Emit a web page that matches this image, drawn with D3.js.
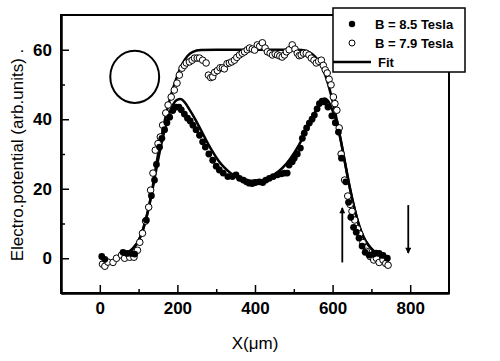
<!DOCTYPE html>
<html>
<head>
<meta charset="utf-8">
<script src="https://cdn.jsdelivr.net/npm/d3@7"></script>
<style>
  body { margin: 0; background: #fff; }
  text { font-family: "Liberation Sans", Arial, sans-serif; }
</style>
</head>
<body>
<div id="chart"></div>
<script>
// Measured points, B = 8.5 Tesla (filled circles)
const x85 = [5, 13, 60, 70, 81, 90, 120, 133, 141, 146, 154, 160, 167, 173, 180, 188, 197, 204, 210, 218,
  226, 233, 240, 248, 257, 265, 272, 281, 291, 300, 308, 318, 330, 342, 351, 360, 370, 378, 385, 393,
  401, 411, 420, 428, 437, 447, 458, 468, 476, 483, 488, 496, 501, 509, 517, 522, 527, 533, 540, 547,
  553, 560, 566, 573, 580, 588, 598, 607, 615, 623, 634, 641, 647, 654, 661, 668, 676, 684, 694, 705,
  712, 720, 730, 741];
const y85 = [0.5, -0.3, 1.7, 1.4, 1.4, 1.2, 11, 18, 22.5, 27, 32, 34.5, 37, 39, 40.6, 42.5, 43.5, 43.5, 42.7, 41.5,
  40.3, 39.5, 38.3, 37, 35.4, 33.5, 32, 30, 28.2, 26.5, 25.4, 24.5, 23.5, 23.5, 24, 23, 22.5, 22, 21.6, 21.5,
  21.8, 22, 21.8, 22.5, 23, 23.5, 24, 24.3, 24.5, 24.5, 26.8, 27.8, 28.8, 30, 31.7, 34.5, 36, 37.5, 38.9, 40,
  41.2, 43, 44.5, 45.2, 45, 43.5, 41, 39, 36.3, 28.8, 22, 16.1, 11.8, 8.9, 7.5, 5.8, 3.5, 1.7, 0.9, 1.2,
  1.5, 1.4, 0.8, 0];

// Measured points, B = 7.9 Tesla (open circles)
const x79 = [7, 13, 21, 34, 43, 56, 64, 77, 88, 97, 103, 110, 118, 126, 131, 137, 143, 150, 156, 162,
  170, 176, 184, 192, 199, 205, 212, 218, 223, 231, 238, 244, 251, 257, 265, 274, 280, 286, 291, 296,
  303, 310, 316, 321, 328, 334, 340, 347, 353, 360, 367, 373, 380, 386, 393, 399, 406, 412, 419, 426,
  432, 439, 445, 452, 458, 464, 470, 476, 481, 488, 496, 503, 509, 514, 519, 525, 532, 539, 545, 552,
  558, 564, 571, 576, 581, 586, 591, 596, 602, 606, 611, 617, 622, 631, 639, 645, 650, 657, 664, 670,
  678, 687, 697, 706, 713, 720, 730, 737, 743];
const y79 = [-1.7, -2.3, -1.1, -1.2, 0, 0.9, 0, 0.3, 0.3, 2.3, 4.6, 7.2, 10.7, 14.7, 19.6, 24.5, 31.1, 33, 34.9, 38.3,
  41.8, 44.1, 46.4, 48.4, 50.4, 52.7, 54.7, 55.5, 56.2, 56.5, 57, 57.6, 57.6, 57.6, 57, 56.2, 52.7, 52, 52.2, 53.5,
  54, 54.8, 54.8, 54.5, 56, 56.2, 56.5, 57, 57.8, 58.5, 59, 59.4, 60, 60.5, 60.2, 59.9, 61.4, 61, 62, 60.5,
  59.4, 59, 58.5, 58.8, 58.5, 58.2, 57.9, 58.5, 59.4, 60, 61.4, 60.2, 59, 58.3, 58.5, 59, 59, 58.5, 57.6, 57,
  56.2, 56.7, 57, 55.5, 54.2, 53.3, 51.5, 49.9, 46.4, 44.5, 42.6, 37.5, 30, 22.5, 17.9, 15.5, 13.5, 11, 8.5, 7,
  4.5, 2, 0.5, -0.5, 0, -1.2, -0.5, -1.5, -2];

// Fit curves
const fitTopX = [70, 85, 100, 112, 125, 137, 148, 160, 172, 185, 198, 212, 226, 240, 260, 300, 400, 500, 520, 535,
  548, 560, 572, 584, 596, 608, 620, 632, 644, 656, 668, 680, 692, 705, 720];
const fitTopY = [1.5, 2.8, 5, 8.5, 14, 21, 28.5, 35.5, 42, 47.5, 52, 55.8, 58.2, 59.4, 59.9, 60, 60, 60, 59.9, 59.5,
  58.7, 57.3, 55.2, 51.8, 47, 41.3, 34.5, 27.5, 20.5, 14.5, 9.5, 6, 3.8, 2.2, 1];
const fitLowX = [70, 85, 100, 112, 125, 137, 148, 160, 172, 185, 198, 208, 218, 230, 245, 260, 275, 290, 305, 320,
  335, 350, 370, 390, 410, 430, 450, 470, 490, 505, 520, 535, 550, 562, 572, 580, 588, 597, 608, 620,
  632, 644, 656, 668, 680, 692, 705, 720];
const fitLowY = [1.5, 2.8, 5, 8.5, 14, 20.5, 27, 33.5, 39, 43.3, 45.5, 45.8, 45, 43, 40.2, 37, 33.8, 30.8, 28.2, 26.2,
  24.7, 23.6, 22.7, 22.3, 22.3, 22.9, 24.1, 25.9, 28.5, 31, 34, 37.5, 41, 43.8, 45.6, 46, 45.3, 43.3, 40, 34.5,
  27.5, 20.5, 14.5, 9.5, 6, 3.8, 2.2, 1];

const xMajor = [0, 200, 400, 600, 800];
const xMinor = [-100, 100, 300, 500, 700];
const yMajor = [0, 20, 40, 60];
const yMinor = [-10, 10, 30, 50];

// Annotations in data units: arrows [x, yFrom, yTo], ellipse [cx, cy, rx, ry]
const arrows = [[625, -1.2, 14.5], [795, 15.3, 1.5]];
const ellipse = [90, 52.2, 63, 7.5];

const legendItems = ["B = 8.5 Tesla", "B = 7.9 Tesla", "Fit"];

const width = 500, height = 361;
const x = d3.scaleLinear().domain([-100, 900]).range([61, 449]);
const y = d3.scaleLinear().domain([-10, 70]).range([293, 15]);

const svg = d3.create("svg")
    .attr("width", width)
    .attr("height", height)
    .attr("viewBox", [0, 0, width, height]);

svg.append("rect").attr("width", width).attr("height", height).attr("fill", "#fff");

// Frame
svg.append("rect")
    .attr("x", x.range()[0]).attr("y", y.range()[1])
    .attr("width", x.range()[1] - x.range()[0])
    .attr("height", y.range()[0] - y.range()[1])
    .attr("fill", "none").attr("stroke", "#000").attr("stroke-width", 2);

// Axes with inward ticks
svg.append("g")
    .attr("transform", `translate(0,${y.range()[0]})`)
    .call(d3.axisBottom(x).tickValues(xMajor).tickSizeInner(-8).tickSizeOuter(0).tickPadding(9));
svg.append("g")
    .attr("transform", `translate(0,${y.range()[0]})`)
    .call(d3.axisBottom(x).tickValues(xMinor).tickSizeInner(-4).tickSizeOuter(0).tickFormat(""));
svg.append("g")
    .attr("transform", `translate(${x.range()[0]},0)`)
    .call(d3.axisLeft(y).tickValues(yMajor).tickSizeInner(-8).tickSizeOuter(0).tickPadding(9));
svg.append("g")
    .attr("transform", `translate(${x.range()[0]},0)`)
    .call(d3.axisLeft(y).tickValues(yMinor).tickSizeInner(-4).tickSizeOuter(0).tickFormat(""));

svg.selectAll(".domain").attr("stroke-width", 2);
svg.selectAll(".tick line").attr("stroke-width", 1.5);
svg.selectAll(".tick text")
    .style("font-family", "'Liberation Sans', Arial, sans-serif")
    .style("font-size", "17px")
    .style("font-weight", "bold");

// Axis titles
svg.append("text")
    .attr("x", 255).attr("y", 349)
    .attr("text-anchor", "middle")
    .style("font-size", "17px")
    .text("X(\u03bcm)");
svg.append("text")
    .attr("transform", "translate(23,155) rotate(-90)")
    .attr("text-anchor", "middle")
    .style("font-size", "17px")
    .text("Electro.potential (arb.units) .");

// Fit lines
const line = d3.line()
    .x(d => x(d[0]))
    .y(d => y(d[1]))
    .curve(d3.curveMonotoneX);
const fits = [d3.zip(fitTopX, fitTopY), d3.zip(fitLowX, fitLowY)];
svg.append("g")
    .selectAll("path")
    .data(fits)
    .join("path")
    .attr("d", line)
    .attr("fill", "none")
    .attr("stroke", "#000")
    .attr("stroke-width", 2.5);

// Open circles (7.9 T)
svg.append("g")
    .selectAll("circle")
    .data(d3.zip(x79, y79))
    .join("circle")
    .attr("cx", d => x(d[0]))
    .attr("cy", d => y(d[1]))
    .attr("r", 3.3)
    .attr("fill", "#fff")
    .attr("stroke", "#000")
    .attr("stroke-width", 1);

// Filled circles (8.5 T)
svg.append("g")
    .selectAll("circle")
    .data(d3.zip(x85, y85))
    .join("circle")
    .attr("cx", d => x(d[0]))
    .attr("cy", d => y(d[1]))
    .attr("r", 3.4)
    .attr("fill", "#000");

// Ellipse
svg.append("ellipse")
    .attr("cx", x(ellipse[0]))
    .attr("cy", y(ellipse[1]))
    .attr("rx", x(ellipse[0] + ellipse[2]) - x(ellipse[0]))
    .attr("ry", y(ellipse[1]) - y(ellipse[1] + ellipse[3]))
    .attr("fill", "none")
    .attr("stroke", "#000")
    .attr("stroke-width", 2);

// Arrows
svg.append("defs").append("marker")
    .attr("id", "head")
    .attr("viewBox", "0 0 10 10")
    .attr("refX", 9).attr("refY", 5)
    .attr("markerWidth", 10).attr("markerHeight", 6)
    .attr("markerUnits", "userSpaceOnUse")
    .attr("orient", "auto")
    .append("path")
    .attr("d", "M0,0L10,5L0,10Z")
    .attr("fill", "#000");
svg.append("g")
    .selectAll("line")
    .data(arrows)
    .join("line")
    .attr("x1", d => x(d[0])).attr("x2", d => x(d[0]))
    .attr("y1", d => y(d[1])).attr("y2", d => y(d[2]))
    .attr("stroke", "#000")
    .attr("stroke-width", 1.8)
    .attr("marker-end", "url(#head)");

// Legend
const legend = svg.append("g");
legend.append("rect")
    .attr("x", 333).attr("y", 8)
    .attr("width", 132).attr("height", 64)
    .attr("fill", "#fff").attr("stroke", "#000").attr("stroke-width", 1.5);
legend.append("circle").attr("cx", 352).attr("cy", 24).attr("r", 3.2).attr("fill", "#000");
legend.append("circle").attr("cx", 352).attr("cy", 43).attr("r", 3)
    .attr("fill", "#fff").attr("stroke", "#000").attr("stroke-width", 1);
legend.append("line").attr("x1", 333).attr("x2", 371).attr("y1", 62).attr("y2", 62)
    .attr("stroke", "#000").attr("stroke-width", 2.5);
legend.selectAll("text.lab")
    .data(legendItems)
    .join("text")
    .attr("class", "lab")
    .attr("x", (d, i) => i === 2 ? 378 : 375)
    .attr("y", (d, i) => 29 + i * 19)
    .style("font-size", "13px")
    .style("font-weight", "bold")
    .text(d => d);

document.getElementById("chart").appendChild(svg.node());
</script>
</body>
</html>
